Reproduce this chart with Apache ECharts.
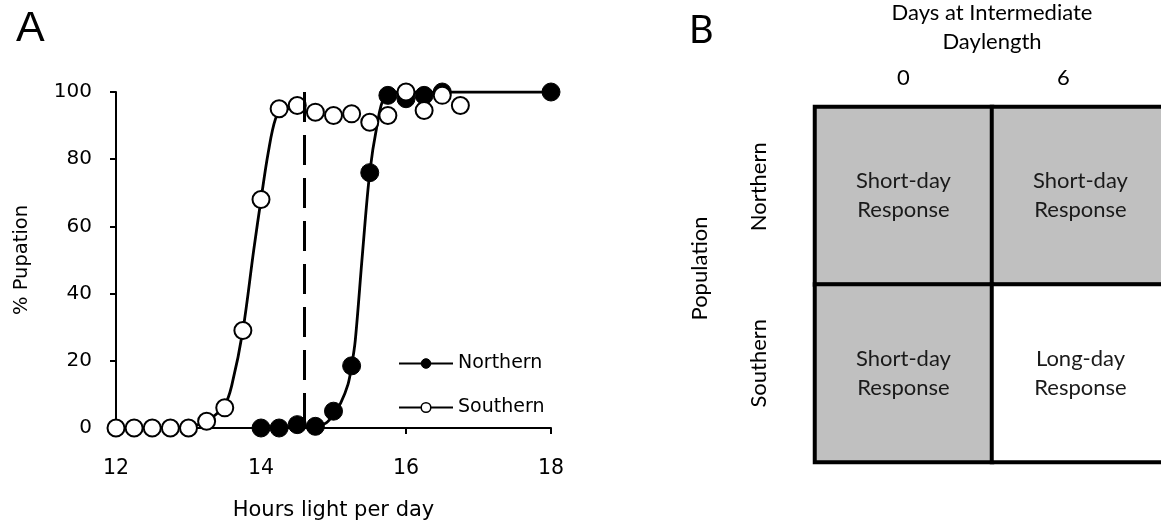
<!DOCTYPE html>
<html>
<head>
<meta charset="utf-8">
<script src="https://cdn.jsdelivr.net/npm/echarts@6/dist/echarts.min.js"></script>
<style>
html,body{margin:0;padding:0;background:#fff;}
#c{width:1161px;height:522px;}
</style>
</head>
<body>
<div id="c"></div>
<script>
// ---- Panel A data (hours of light per day, % pupation) ----
var northernPoints = [[14,0],[14.25,0],[14.5,1],[14.75,0.5],[15,5],[15.25,18.5],[15.5,76],[15.75,99],[16,98],[16.25,99],[16.5,100],[18,100]];
var southernPoints = [[12,0],[12.25,0],[12.5,0],[12.75,0],[13,0],[13.25,2],[13.5,6],[13.75,29],[14,68],[14.25,95],[14.5,96],[14.75,94],[15,93],[15.25,93.5],[15.5,91],[15.75,93],[16,100],[16.25,94.5],[16.5,99],[16.75,96]];
// fitted curves
var northernCurve = [[14,0],[14.75,0.3],[14.9,1.5],[15,4],[15.1,7.5],[15.2,13],[15.25,18.5],[15.3,26],[15.4,52],[15.5,76],[15.6,90],[15.7,98.5],[15.85,100],[18,100]];
var southernCurve = [[12,0],[13,0.5],[13.25,2],[13.5,7],[13.6,13],[13.75,29],[13.9,53],[14,68],[14.1,82],[14.2,92],[14.3,95],[14.5,95]];
var threshold = 14.6;
var xTicks = [12,14,16,18];
var yTicks = [0,20,40,60,80,100];

// ---- Panel B data ----
var daysCats = ['0','6'];
var populations = ['Northern','Southern'];
var responses = [
  ['Short-day\nResponse','Short-day\nResponse'],   // Northern
  ['Short-day\nResponse','Long-day\nResponse']     // Southern
];

var chart = echarts.init(document.getElementById('c'), null, {renderer:'canvas'});

var leftFont = 'DejaVu Sans';
var rightFont = 'Lato';

var heatData = [];
populations.forEach(function(p, r){
  daysCats.forEach(function(d, c){
    var txt = responses[r][c];
    heatData.push({
      value:[c, r, txt.indexOf('Short') === 0 ? 1 : 0],
      itemStyle:{color: txt.indexOf('Short') === 0 ? '#c0c0c0' : '#ffffff'}
    });
  });
});

var option = {
  animation:false,
  title:[
    {text:'A', left:16, top:8, padding:0, textStyle:{fontFamily:'Liberation Sans', fontSize:43, fontWeight:'normal', color:'#000'}},
    {text:'B', left:689, top:12, padding:0, textStyle:{fontFamily:rightFont, fontSize:38, fontWeight:'normal', color:'#000'}}
  ],
  legend:{
    orient:'vertical', left:393, top:349, itemWidth:54, itemHeight:12, itemGap:25,
    textStyle:{fontFamily:leftFont, fontSize:19, color:'#000', padding:[0,0,0,0]},
    lineStyle:{width:2, color:'#000'},
    data:[
      {name:'Northern', itemStyle:{color:'#000', borderColor:'#000', borderWidth:1}},
      {name:'Southern', itemStyle:{color:'#fff', borderColor:'#000', borderWidth:1.5}}
    ]
  },
  grid:[
    {left:116, top:92, width:435, height:336, outerBoundsMode:'none'},
    {left:815, top:107, width:354, height:355, outerBoundsMode:'none'}
  ],
  xAxis:[
    {type:'value', gridIndex:0, min:12, max:18, interval:2,
     name:'Hours light per day', nameLocation:'middle', nameGap:72,
     nameTextStyle:{fontFamily:leftFont, fontSize:21, color:'#000'},
     axisLine:{lineStyle:{color:'#000', width:2}},
     axisTick:{length:6, lineStyle:{color:'#000', width:2}},
     axisLabel:{margin:30, fontFamily:leftFont, fontSize:20.5, color:'#000',
       formatter:function(v){ return xTicks.indexOf(v) >= 0 ? String(v) : ''; }},
     splitLine:{show:false}},
    {type:'category', gridIndex:1, position:'top', data:[
        {value:daysCats[0]},
        {value:daysCats[1], textStyle:{padding:[0,34,0,0]}}
      ],
     name:'Days at Intermediate\nDaylength', nameLocation:'middle', nameGap:51,
     nameTextStyle:{fontFamily:rightFont, fontSize:22, color:'#000', lineHeight:29},
     axisLine:{show:false}, axisTick:{show:false},
     axisLabel:{margin:18, fontFamily:rightFont, fontSize:22, color:'#000'},
     splitLine:{show:false}}
  ],
  yAxis:[
    {type:'value', gridIndex:0, min:0, max:100, interval:20,
     name:'% Pupation', nameLocation:'middle', nameGap:84, nameRotate:90,
     nameTextStyle:{fontFamily:leftFont, fontSize:19.5, color:'#000'},
     axisLine:{show:true, lineStyle:{color:'#000', width:2}},
     axisTick:{show:true, length:6, lineStyle:{color:'#000', width:2}},
     axisLabel:{margin:24, fontFamily:leftFont, fontSize:20, color:'#000',
       formatter:function(v){ return yTicks.indexOf(v) >= 0 ? String(v) : ''; }},
     splitLine:{show:false}},
    {type:'category', gridIndex:1, inverse:true, data:[
        {value:populations[0], textStyle:{padding:[0,0,0,18]}},
        {value:populations[1], textStyle:{padding:[0,0,0,20]}}
      ],
     name:'Population', nameLocation:'middle', nameGap:104, nameRotate:90,
     nameTextStyle:{fontFamily:rightFont, fontSize:22, color:'#000', padding:[0,0,0,32]},
     axisLine:{show:false}, axisTick:{show:false},
     axisLabel:{rotate:90, margin:45, fontFamily:rightFont, fontSize:22, color:'#000'},
     splitLine:{show:false}}
  ],
  series:[
    {name:'Southern', type:'line', xAxisIndex:0, yAxisIndex:0, data:southernCurve,
     symbol:'circle', showSymbol:false, smooth:0.35, z:2,
     lineStyle:{color:'#000', width:2.8}, itemStyle:{color:'#fff', borderColor:'#000'}},
    {name:'Northern', type:'line', xAxisIndex:0, yAxisIndex:0, data:northernCurve,
     symbol:'circle', showSymbol:false, smooth:0.35, z:2,
     lineStyle:{color:'#000', width:2.8}, itemStyle:{color:'#000'}},
    {name:'Northern points', type:'scatter', xAxisIndex:0, yAxisIndex:0, data:northernPoints,
     symbol:'circle', symbolSize:18, z:3, itemStyle:{color:'#000', borderColor:'#000', borderWidth:1, opacity:1}},
    {name:'Southern points', type:'scatter', xAxisIndex:0, yAxisIndex:0, data:southernPoints,
     symbol:'circle', symbolSize:17, z:4, itemStyle:{color:'#fff', borderColor:'#000', borderWidth:2, opacity:1}},
    {name:'threshold', type:'line', xAxisIndex:0, yAxisIndex:0,
     data:[[threshold,100],[threshold,0]], symbol:'none', z:5,
     lineStyle:{color:'#000', width:3, type:[30,13]}},
    {name:'response', type:'heatmap', xAxisIndex:1, yAxisIndex:1, data:heatData,
     itemStyle:{borderColor:'#000', borderWidth:4},
     label:{show:true, fontFamily:rightFont, fontSize:22, lineHeight:29, color:'#1a1a1a',
       formatter:function(p){ return responses[p.value[1]][p.value[0]]; }},
     emphasis:{disabled:true}}
  ]
};
chart.setOption(option);
</script>
</body>
</html>
